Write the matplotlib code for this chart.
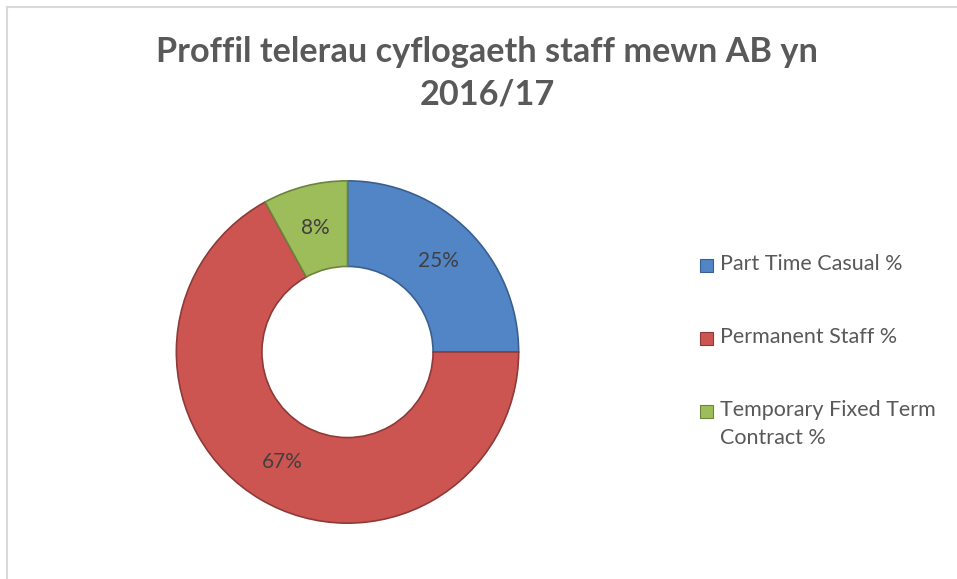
import matplotlib
matplotlib.use("Agg")
import matplotlib.pyplot as plt
from matplotlib.patches import Rectangle
from matplotlib.lines import Line2D

title = "Proffil telerau cyflogaeth staff mewn AB yn\n2016/17"
categories = ["Part Time Casual %", "Permanent Staff %", "Temporary Fixed Term\nContract %"]
values = [25, 67, 8]
colors = ["#5185C6", "#CD5551", "#9DBD5A"]
edge_colors = ["#3A5F8F", "#8E3A38", "#6C833E"]

W, H = 957, 579
fig = plt.figure(figsize=(W / 100, H / 100), dpi=100)
fig.patch.set_facecolor("white")

# chart border (top and left visible)
fig.add_artist(Line2D([7 / W, 7 / W], [0, 1 - 6.5 / H], transform=fig.transFigure,
                      color="#D9D9D9", lw=1.5))
fig.add_artist(Line2D([7 / W, 1], [1 - 6.5 / H, 1 - 6.5 / H], transform=fig.transFigure,
                      color="#D9D9D9", lw=1.5))

fam = ["Lato", "DejaVu Sans"]
fig.text(487 / W, 1 - 73 / H, title, ha="center", va="center", fontsize=24.7,
         fontweight="bold", color="#595959", family=fam, linespacing=1.4)

cx, cy, r = 347.5, 352, 172
ax = fig.add_axes([(cx - r) / W, (H - cy - r) / H, 2 * r / W, 2 * r / H])
wedges, texts, autotexts = ax.pie(
    values, colors=colors, startangle=90, counterclock=False, radius=1,
    autopct="%1.0f%%", pctdistance=0.75,
    wedgeprops=dict(width=0.5, linewidth=1.2),
    textprops=dict(fontsize=15, color="#404040", family=fam))
for w, ec in zip(wedges, edge_colors):
    w.set_edgecolor(ec)
ax.set_xlim(-1.005, 1.005)
ax.set_ylim(-1.005, 1.005)
ax.set_aspect("equal")
ax.axis("off")

# legend
ys = [265, 338, 411]
for cat, col, ec, y in zip(categories, colors, edge_colors, ys):
    fig.add_artist(Rectangle((700 / W, 1 - (y + 7) / H), 13 / W, 13 / H,
                             transform=fig.transFigure, facecolor=col,
                             edgecolor=ec, lw=0.8))
    fig.text(720 / W, 1 - (y - 11) / H, cat, ha="left", va="top", fontsize=15.5,
             color="#595959", family=fam, linespacing=1.5)

fig.savefig("out.png", dpi=100)
